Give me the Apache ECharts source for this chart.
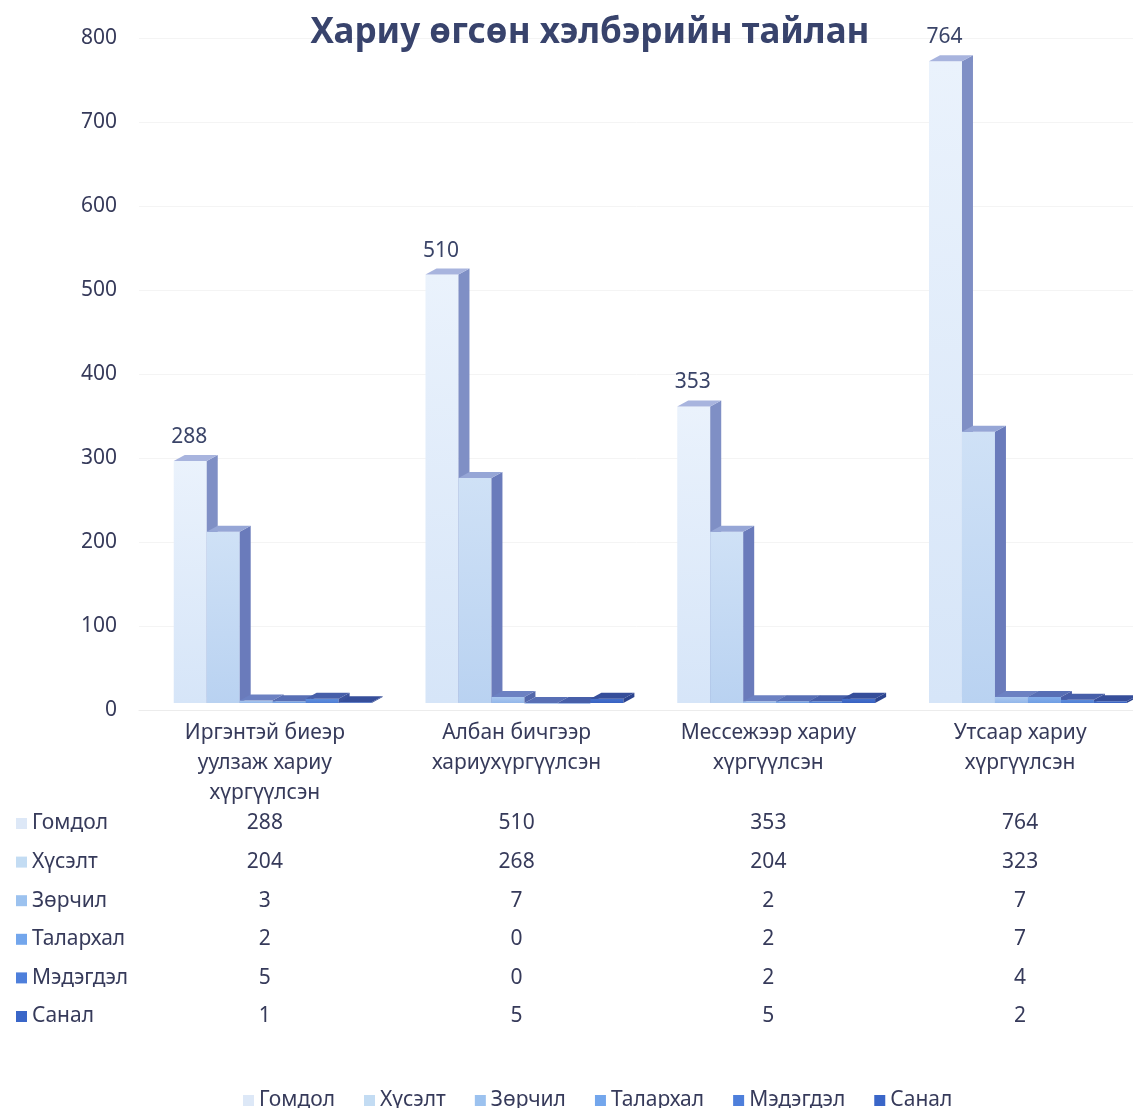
<!DOCTYPE html>
<html><head><meta charset="utf-8">
<script src="https://cdn.jsdelivr.net/npm/echarts@6/dist/echarts.min.js"></script>
<style>html,body{margin:0;padding:0;background:#fff}#c{width:1133px;height:1108px}</style>
</head><body><div id="c"></div>
<script>
const categories = ['Иргэнтэй биеэр\nуулзаж хариу\nхүргүүлсэн', 'Албан бичгээр\nхариухүргүүлсэн', 'Мессежээр хариу\nхүргүүлсэн', 'Утсаар хариу\nхүргүүлсэн'];
const seriesNames = ['Гомдол', 'Хүсэлт', 'Зөрчил', 'Талархал', 'Мэдэгдэл', 'Санал'];
const gomdol = [288, 510, 353, 764];
const khuselt = [204, 268, 204, 323];
const zorchil = [3, 7, 2, 7];
const talarkhal = [2, 0, 2, 7];
const medegdel = [5, 0, 2, 4];
const sanal = [1, 5, 5, 2];
const yTicks = [0, 100, 200, 300, 400, 500, 600, 700, 800];

const seriesValues = [gomdol, khuselt, zorchil, talarkhal, medegdel, sanal];
const FONT = '"Noto Sans", sans-serif';
const TXT = '#363a5a';
const styles = [
  {front: ['#eaf2fc', '#d6e5f8'], side: '#7f8fc5', top: '#a8b4de', legend: '#dde8f7'},
  {front: ['#cfe1f6', '#b9d2f1'], side: '#6a7bbb', top: '#96a6d6', legend: '#c3dcf3'},
  {front: ['#a9c7ef', '#93b7ea'], side: '#5367aa', top: '#6c81c2', legend: '#9cc2ef'},
  {front: ['#84aeea', '#6f9ee4'], side: '#4a5ea6', top: '#586fb5', legend: '#73a6ec'},
  {front: ['#5f8ddb', '#4f7fd6'], side: '#3d539c', top: '#475fa9', legend: '#4e7fdb'},
  {front: ['#4571cc', '#3761c2'], side: '#2c448e', top: '#364e9a', legend: '#3a66c8'}
];

function makeRender(sIdx) {
  return function (params, api) {
    const ci = api.value(0), v = api.value(1);
    const c = api.coord([ci, v]);
    const c0 = api.coord([ci, 0]);
    const band = api.size([1, 0])[0];
    const w = band * 0.131;
    const lift = 7, dx = 11, dy = 6;
    const x = c[0] - band * 0.362 + sIdx * w;
    const yT = c[1] - lift;
    const yB = c0[1] - lift;
    const st = styles[sIdx];
    const children = [
      {type: 'rect', shape: {x: x, y: yT, width: w, height: Math.max(yB - yT, 0.5)},
       style: {fill: new echarts.graphic.LinearGradient(0, 0, 0, 1, [{offset: 0, color: st.front[0]}, {offset: 1, color: st.front[1]}])}},
      {type: 'polygon', shape: {points: [[x + w, yT], [x + w + dx, yT - dy], [x + w + dx, yB - dy], [x + w, yB]]},
       style: {fill: st.side}},
      {type: 'polygon', shape: {points: [[x, yT], [x + w, yT], [x + w + dx, yT - dy], [x + dx, yT - dy]]},
       style: {fill: st.top}}
    ];
    if (sIdx === 0) {
      children.push({type: 'text', style: {text: String(v), x: x + w / 2 - 1, y: yT - 24, align: 'center', verticalAlign: 'middle',
        font: '21px ' + FONT, fill: '#3a4468'}});
    }
    return {type: 'group', children: children};
  };
}

const series = seriesNames.map((name, i) => ({
  type: 'custom', name: name, renderItem: makeRender(i),
  itemStyle: {color: styles[i].legend},
  encode: {x: 0, y: 1},
  data: seriesValues[i].map((v, k) => [k, v]),
  z: 2
}));

const xAxes = [{
  type: 'category', data: categories, gridIndex: 0, position: 'bottom',
  axisLine: {show: true, lineStyle: {color: '#ececec'}}, axisTick: {show: false},
  axisLabel: {interval: 0, color: TXT, fontSize: 21, lineHeight: 30, margin: 8, fontFamily: FONT}
}];
seriesValues.forEach((vals, k) => {
  xAxes.push({
    type: 'category', data: categories, gridIndex: 0, position: 'bottom', offset: 103 + 38.6 * k,
    axisLine: {show: false}, axisTick: {show: false}, splitLine: {show: false},
    axisLabel: {interval: 0, margin: 0, color: TXT, fontSize: 21, lineHeight: 21, fontFamily: FONT,
      formatter: (val, idx) => String(vals[idx])}
  });
});

const chart = echarts.init(document.getElementById('c'));
chart.setOption({
  backgroundColor: '#ffffff',
  animation: false,
  title: {text: 'Хариу өгсөн хэлбэрийн тайлан', left: 585, top: 11, textAlign: 'center',
    textStyle: {fontFamily: FONT, fontSize: 35, fontWeight: 'bold', color: '#38436c'}},
  legend: [
    {data: seriesNames, orient: 'vertical', left: 11, top: 808, itemWidth: 11, itemHeight: 11, itemGap: 17.6, icon: 'rect',
     textStyle: {fontFamily: FONT, fontSize: 21, lineHeight: 21, color: TXT}},
    {data: seriesNames, orient: 'horizontal', left: 238, top: 1085, itemWidth: 11, itemHeight: 11, itemGap: 29, icon: 'rect',
     textStyle: {fontFamily: FONT, fontSize: 21, lineHeight: 21, color: TXT}}
  ],
  grid: {left: 139, top: 38, width: 1007, height: 672, containLabel: false, outerBoundsMode: 'none'},
  xAxis: xAxes,
  yAxis: {type: 'value', min: yTicks[0], max: yTicks[yTicks.length - 1], interval: 100,
    axisLine: {show: false}, axisTick: {show: false},
    axisLabel: {color: TXT, fontSize: 21, margin: 22, fontFamily: FONT},
    splitLine: {show: true, lineStyle: {color: '#f4f4f4'}}},
  series: series
});
</script></body></html>
